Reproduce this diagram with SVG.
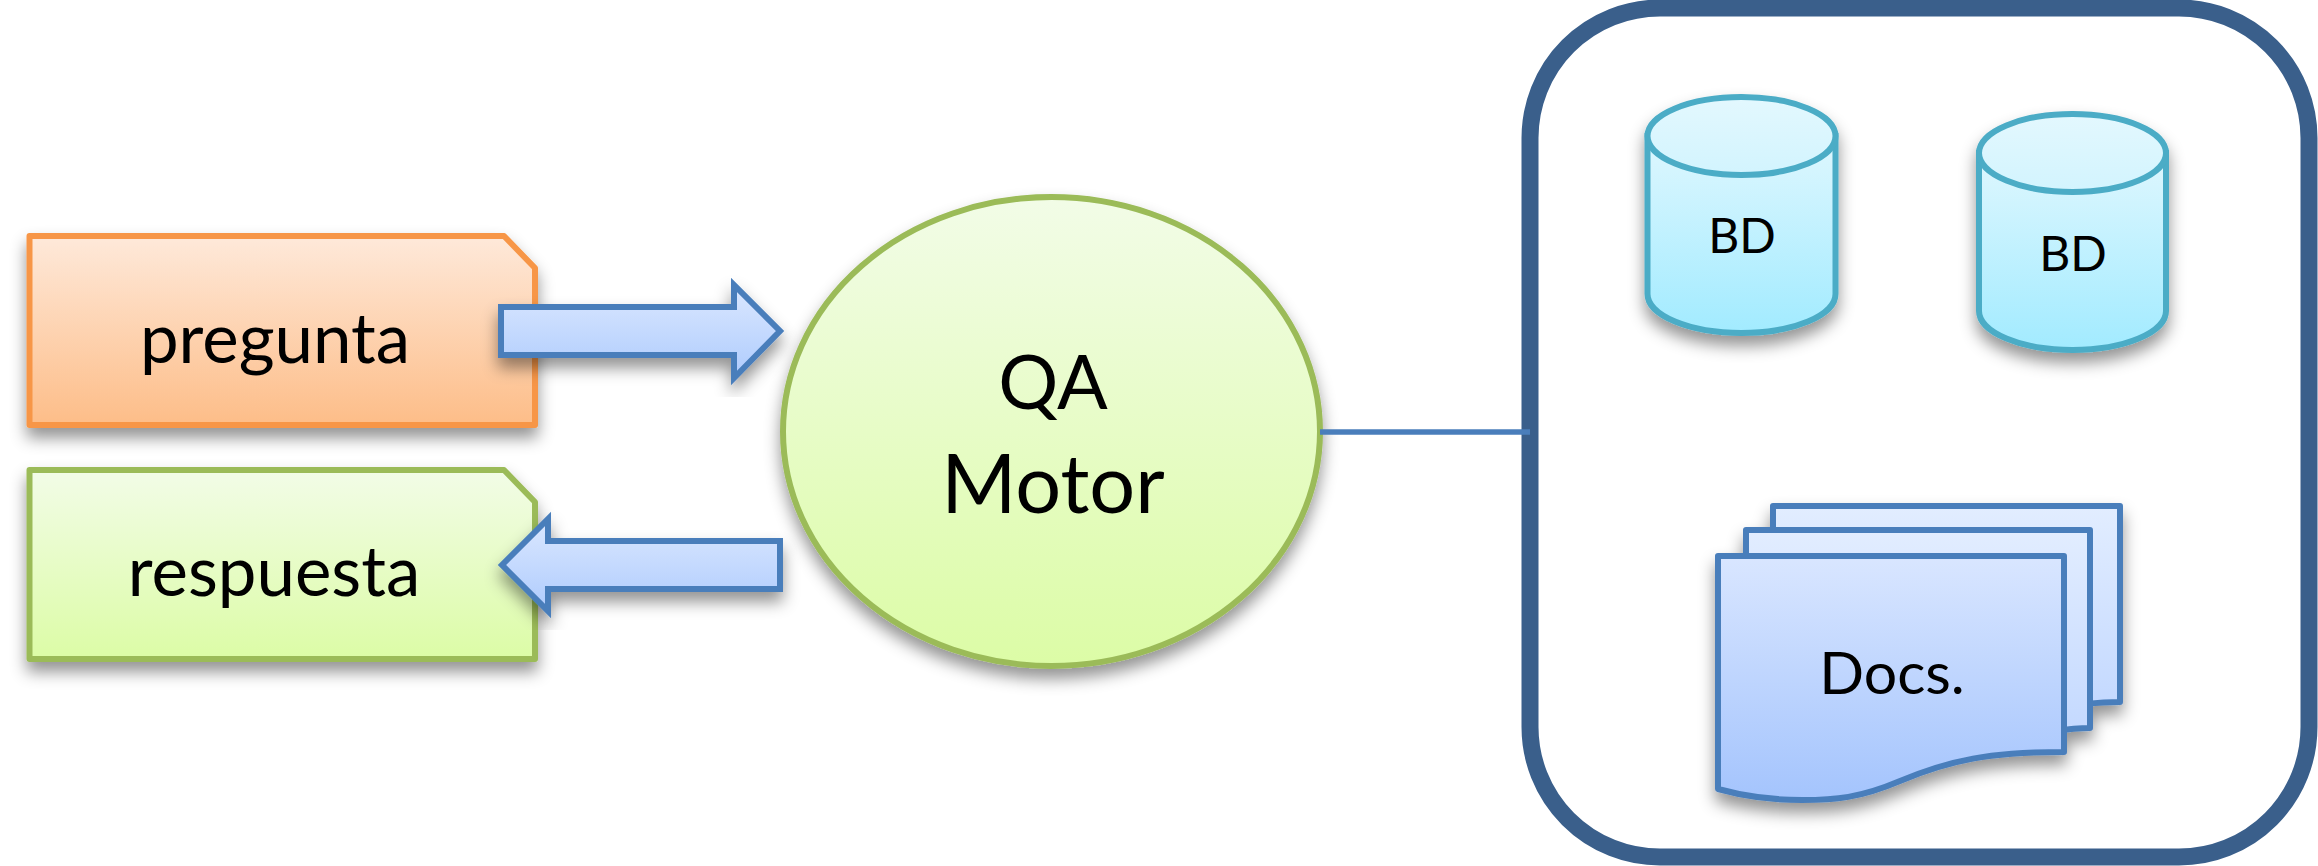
<svg xmlns="http://www.w3.org/2000/svg" width="2318" height="866" viewBox="0 0 2318 866">
  <style>
    text { font-family: "Lato", "Open Sans", "Liberation Sans", sans-serif; fill: #000; text-anchor: middle; }
    .lg { font-size: 81px; }
    .qa { font-size: 75px; }
    .md { font-size: 69px; }
    .bd { font-size: 48px; }
    .dc { font-size: 59px; }
    .blue { stroke: #4a7ebb; stroke-width: 6; fill: url(#gBlue); stroke-linejoin: miter; }
    .doc { stroke: #4a7ebb; stroke-width: 6; stroke-linejoin: round; }
    .cyl { stroke: #4bacc6; stroke-width: 6; fill: url(#gCyl); }
    .capc { stroke: #4bacc6; stroke-width: 6; fill: url(#gCap); }
  </style>
  <defs>
    <linearGradient id="gOrange" x1="0" y1="0" x2="0" y2="1"><stop offset="0" stop-color="#fee9da"/><stop offset="1" stop-color="#fdbd88"/></linearGradient>
    <linearGradient id="gGreen" x1="0" y1="0" x2="0" y2="1"><stop offset="0" stop-color="#f2fce7"/><stop offset="1" stop-color="#dcfca6"/></linearGradient>
    <linearGradient id="gBlue" x1="0" y1="0" x2="0" y2="1"><stop offset="0" stop-color="#dbe8ff"/><stop offset="1" stop-color="#aecbfd"/></linearGradient>
    <linearGradient id="gCyl" x1="0" y1="0" x2="0" y2="1"><stop offset="0" stop-color="#dff7fe"/><stop offset="1" stop-color="#a2ebff"/></linearGradient>
    <linearGradient id="gCap" x1="0" y1="0" x2="0" y2="1"><stop offset="0" stop-color="#e3f8fe"/><stop offset="1" stop-color="#d2f4fe"/></linearGradient>
    <linearGradient id="gD1" x1="0" y1="0" x2="0" y2="1"><stop offset="0" stop-color="#e2edff"/><stop offset="1" stop-color="#c4d9ff"/></linearGradient>
    <linearGradient id="gD3" x1="0" y1="0" x2="0" y2="1"><stop offset="0" stop-color="#d9e6ff"/><stop offset="1" stop-color="#a4c4fd"/></linearGradient>
    <filter id="sh" x="-20%" y="-20%" width="140%" height="140%">
      <feDropShadow dx="0" dy="10" stdDeviation="8" flood-color="#000" flood-opacity="0.42"/>
    </filter>
  </defs>

  <g id="repositorio">
    <rect x="1530" y="8" width="779" height="849" rx="130" ry="130" fill="#fff" stroke="#3a5f8b" stroke-width="17"/>
  </g>

  <g id="pregunta">
    <path d="M29.500,236 H504 L535,268 V425 H29.500 Z" fill="url(#gOrange)" stroke="#f79646" stroke-width="6" stroke-linejoin="round" filter="url(#sh)"/>
    <text class="md" x="275" y="363">pregunta</text>
  </g>

  <g id="respuesta">
    <path d="M29.500,470 H504 L535,502 V659 H29.500 Z" fill="url(#gGreen)" stroke="#9bbb59" stroke-width="6" stroke-linejoin="round" filter="url(#sh)"/>
    <text class="md" x="274" y="596">respuesta</text>
  </g>

  <g id="motor">
    <ellipse cx="1051.500" cy="431.500" rx="268.500" ry="234.500" fill="url(#gGreen)" stroke="#9bbb59" stroke-width="6" filter="url(#sh)"/>
    <text class="qa" x="1053" y="409">QA</text>
    <text class="lg" x="1053" y="513">Motor</text>
  </g>

  <g id="bd1">
    <g filter="url(#sh)">
      <path class="cyl" d="M1647.500,136 V294 A94,39 0 0 0 1835.500,294 V136 Z"/>
      <ellipse class="capc" cx="1741.500" cy="136" rx="94" ry="39"/>
    </g>
    <text class="bd" x="1742" y="253">BD</text>
  </g>

  <g id="bd2">
    <g filter="url(#sh)">
      <path class="cyl" d="M1979,153 V311 A93.500,39 0 0 0 2166,311 V153 Z"/>
      <ellipse class="capc" cx="2072.500" cy="153" rx="93.500" ry="39"/>
    </g>
    <text class="bd" x="2073" y="271">BD</text>
  </g>

  <g id="docs">
    <g filter="url(#sh)">
      <path class="doc" fill="url(#gD1)" d="M1773,560 V506 H2120 V702 Q2105,702 2085,704 L1773,704 Z"/>
      <path class="doc" fill="url(#gD1)" d="M1746,580 V530 H2090 V728 Q2075,728 2055,731 L1746,731 Z"/>
      <path class="doc" fill="url(#gD3)" d="M1718,556 H2064 V752 C1990,752 1950,760 1900,781 C1860,798 1835,800 1802,800 C1775,800 1750,798 1718,789 Z"/>
    </g>
    <text class="dc" x="1892" y="694">Docs.</text>
  </g>

  <g id="connectors">
    <line x1="1320" y1="432" x2="1530" y2="432" stroke="#4a7ebb" stroke-width="5.500"/>
    <path class="blue" filter="url(#sh)" d="M501,307 H734 V285 L780,331 L734,378 V355 H501 Z"/>
    <path class="blue" filter="url(#sh)" d="M780,541 H548 V519 L502,565 L548,611 V589 H780 Z"/>
  </g>
</svg>
